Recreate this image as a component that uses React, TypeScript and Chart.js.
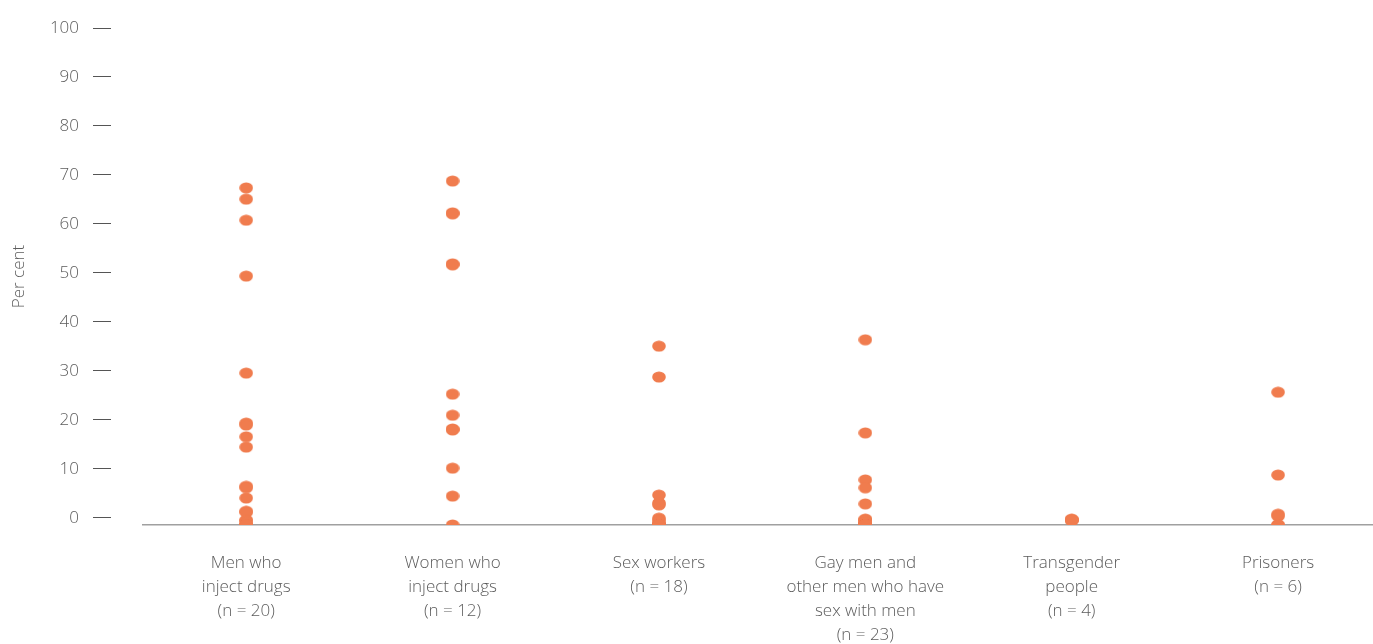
import { useEffect, useRef } from 'react';
import { Chart, registerables } from 'chart.js';

Chart.register(...registerables);

const categories: string[][] = [
  ['Men who', 'inject drugs', '(n = 20)'],
  ['Women who', 'inject drugs', '(n = 12)'],
  ['Sex workers', '(n = 18)'],
  ['Gay men and', 'other men who have', 'sex with men', '(n = 23)'],
  ['Transgender', 'people', '(n = 4)'],
  ['Prisoners', '(n = 6)'],
];

const menWhoInjectDrugs = [68.8, 66.5, 62.2, 50.8, 31.0, 20.8, 20.4, 18.0, 15.9, 7.9, 7.6, 5.5, 2.8, 2.6, 1.0, 0.8, 0, 0, 0, 0];
const womenWhoInjectDrugs = [70.2, 63.7, 63.5, 53.3, 53.1, 26.7, 22.4, 19.6, 19.4, 11.6, 5.9, 0];
const sexWorkers = [36.5, 30.2, 6.1, 4.5, 4.1, 1.4, 1.0, 0.6, 0, 0, 0, 0, 0, 0, 0, 0, 0, 0];
const gayMenMSM = [37.8, 18.8, 9.2, 7.6, 4.3, 1.2, 1.0, 0.8, 0.5, 0, 0, 0, 0, 0, 0, 0, 0, 0, 0, 0, 0, 0, 0];
const transgenderPeople = [1.2, 1.0, 1.0, 0.9];
const prisoners = [27.1, 10.2, 2.2, 1.8, 0, 0];

const yTickLabels = [0, 10, 20, 30, 40, 50, 60, 70, 80, 90, 100];

const ORANGE = '#F07C4E';
const TEXT = '#5c5c5c';
const FONT = '"Open Sans", Lato, sans-serif';

export default function App() {
  const ref = useRef<HTMLCanvasElement>(null);

  useEffect(() => {
    if (!ref.current) return;
    const dot = document.createElement('canvas');
    dot.width = 14;
    dot.height = 12;
    const c = dot.getContext('2d')!;
    c.fillStyle = ORANGE;
    c.beginPath();
    c.ellipse(7, 6, 6.8, 5.6, 0, 0, Math.PI * 2);
    c.fill();

    const series = [menWhoInjectDrugs, womenWhoInjectDrugs, sexWorkers, gayMenMSM, transgenderPeople, prisoners];
    const points = series.flatMap((vals, i) => vals.map((v) => ({ x: i, y: v })));

    const chart = new Chart(ref.current, {
      type: 'scatter',
      data: {
        datasets: [
          {
            data: points,
            pointStyle: dot as any,
            pointRadius: 7,
            backgroundColor: ORANGE,
            borderWidth: 0,
            yAxisID: 'y',
          },
        ],
      },
      options: {
        animation: false,
        responsive: true,
        maintainAspectRatio: false,
        layout: { autoPadding: false, padding: { top: 28, right: 0, left: 0, bottom: 0 } },
        plugins: { legend: { display: false }, tooltip: { enabled: false } },
        scales: {
          x: {
            type: 'linear',
            min: -0.5,
            max: 5.46,
            afterBuildTicks: (s: any) => {
              s.ticks = categories.map((_, i) => ({ value: i }));
            },
            afterFit: (s: any) => {
              s.height = 119;
            },
            ticks: {
              callback: (v: any) => categories[v as number],
              color: TEXT,
              font: { family: FONT, size: 17, weight: '300', lineHeight: '24px' },
              padding: 26,
              autoSkip: false,
              maxRotation: 0,
            },
            grid: { display: false, drawTicks: false },
            border: { display: true, color: '#a0a0a0', width: 1.5 },
          },
          y: {
            position: 'left',
            weight: 0,
            min: 0,
            max: 101.43,
            afterFit: (s: any) => {
              s.width = 32;
            },
            ticks: { display: false },
            grid: { display: false, drawTicks: false },
            border: { display: false },
          },
          yTicks: {
            position: 'left',
            weight: 1,
            min: -1.43,
            max: 100,
            afterBuildTicks: (s: any) => {
              s.ticks = yTickLabels.map((v) => ({ value: v }));
            },
            afterFit: (s: any) => {
              s.width = 111;
            },
            ticks: {
              color: TEXT,
              font: { family: FONT, size: 17, weight: '300' },
              padding: 14,
            },
            grid: {
              drawOnChartArea: false,
              drawTicks: true,
              tickLength: 18,
              tickColor: '#555555',
              lineWidth: 1,
            },
            border: { display: false },
            title: {
              display: true,
              text: 'Per cent',
              color: TEXT,
              font: { family: FONT, size: 17, weight: '300' },
              padding: { top: 9, bottom: 0 },
            },
          },
        },
      } as any,
    });
    return () => chart.destroy();
  }, []);

  return (
    <div style={{ position: 'fixed', left: 0, top: 0, width: '1373px', height: '644px' }}>
      <canvas ref={ref} />
    </div>
  );
}
